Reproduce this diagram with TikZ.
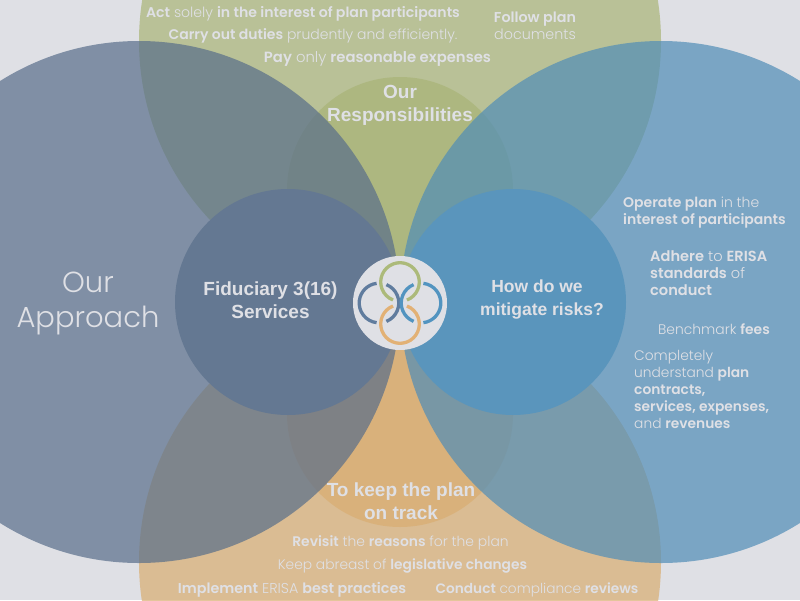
\documentclass[tikz,border=0pt]{standalone}
\usepackage{fontspec}
\setmainfont{Poppins Light}[BoldFont={Poppins SemiBold}]
\newfontfamily\headfont{Liberation Sans}
\definecolor{paperbg}{RGB}{223, 224, 229}
\definecolor{slate}{RGB}{88, 110, 138}
\definecolor{olive}{RGB}{169, 180, 119}
\definecolor{azure}{RGB}{80, 141, 183}
\definecolor{sand}{RGB}{217, 173, 113}
\definecolor{slatedisc}{RGB}{100, 120, 146}
\definecolor{azuredisc}{RGB}{90, 149, 188}
\definecolor{slatering}{RGB}{96, 124, 158}
\definecolor{olivering}{RGB}{172, 186, 122}
\definecolor{azurering}{RGB}{82, 148, 192}
\definecolor{sandring}{RGB}{226, 177, 117}
\tikzset{
  softdisc/.style={fill=#1, fill opacity=0.7, draw=none},
  ring/.style={draw=#1, line width=3.3pt},
  lbl/.style={text=paperbg, font=\fontsize{#1}{17}\selectfont, align=center, inner sep=0pt},
  lbl/.default=14,
  leftlbl/.style={text=paperbg, font=\fontsize{#1}{17}\selectfont, align=left, inner sep=0pt, anchor=west},
  leftlbl/.default=14,
  headlbl/.style={text=paperbg, font=\headfont\bfseries\fontsize{#1}{23}\selectfont, align=center, inner sep=0pt},
  headlbl/.default=19
}
\begin{document}
\begin{tikzpicture}[x=1pt, y=-1pt]
  \useasboundingbox (0, 0) rectangle (800, 600);
  \clip (0, 0) rectangle (800, 600);
  \fill[paperbg] (0, 0) rectangle (800, 600);

  % big discs
  \fill[softdisc=olive] (400, 41) circle[radius=261];
  \fill[softdisc=olive] (400, 190) circle[radius=113];
  \fill[softdisc=sand] (400, 562) circle[radius=261];
  \fill[softdisc=sand] (400, 414) circle[radius=113];
  \fill[softdisc=slate] (139, 302) circle[radius=261];
  \fill[softdisc=azure] (661, 302) circle[radius=261];

  % small discs
  \fill[slatedisc] (288, 302) circle[radius=113];
  \fill[azuredisc] (513, 302) circle[radius=113];

  % logo
  \node[circle, fill=paperbg, minimum size=94pt, inner sep=0pt] (hub) at (400, 303) {};
  \draw[ring=olivering] ([shift={(69:19.3)}]400, 282) arc[start angle=69, end angle=-249, radius=19.3];
  \draw[ring=sandring] ([shift={(-111:19.3)}]400, 324) arc[start angle=-111, end angle=-429, radius=19.3];
  \draw[ring=slatering] ([shift={(97:19.8)}]379, 303) arc[start angle=97, end angle=263, radius=19.8];
  \draw[ring=slatering] ([shift={(-68:19.8)}]379, 303) arc[start angle=-68, end angle=68, radius=19.8];
  \draw[ring=azurering] ([shift={(112:19.8)}]421, 303) arc[start angle=112, end angle=248, radius=19.8];
  \draw[ring=azurering] ([shift={(-83:19.8)}]421, 303) arc[start angle=-83, end angle=83, radius=19.8];

  % headings
  \node[headlbl] (resphead) at (400, 105) {Our\\Responsibilities};
  \node[headlbl] (trackhead) at (401, 501) {To keep the plan\\on track};
  \node[headlbl] (fidhead) at (270.5, 300) {Fiduciary 3(16)\\Services};
  \node[headlbl=17.5] (riskhead) at (542, 300) {How do we\hspace*{10pt}\\mitigate risks?};
  \node[text=paperbg, font=\fontsize{29}{35}\selectfont, align=center, inner sep=0pt] (approach) at (88, 303) {Our\\Approach};

  % top texts
  \node[lbl=14.1] (acttxt) at (303, 14) {\textbf{Act} solely \textbf{in the interest of plan participants}};
  \node[lbl=14] (carrytxt) at (313, 36) {\textbf{Carry out duties} prudently and efficiently.};
  \node[lbl=14.8] (paytxt) at (377.5, 59) {\textbf{Pay} only \textbf{reasonable expenses}};
  \node[lbl=14.3] (followtxt) at (535, 26) {\textbf{Follow plan}\\documents};

  % right texts
  \node[leftlbl] (operatetxt) at (623, 213) {\textbf{Operate plan} in the\\\textbf{interest of participants}};
  \node[leftlbl=14.6] (adheretxt) at (650, 273) {\textbf{Adhere} to \textbf{ERISA}\\\textbf{standards} of\\\textbf{conduct}};
  \node[lbl=13.9] (benchtxt) at (714, 329) {Benchmark \textbf{fees}};
  \node[leftlbl=13.8] (compltxt) at (634, 389) {Completely\\understand \textbf{plan}\\\textbf{contracts,}\\\textbf{services, expenses,}\\and \textbf{revenues}};

  % bottom texts
  \node[lbl=13.9] (revisittxt) at (400.5, 543) {\textbf{Revisit} the \textbf{reasons} for the plan};
  \node[lbl=13.8] (keeptxt) at (402.5, 566) {Keep abreast of \textbf{legislative changes}};
  \node[lbl=14.3] (impltxt) at (292, 590) {\textbf{Implement} ERISA \textbf{best practices}};
  \node[lbl=13.7] (condtxt) at (537, 590) {\textbf{Conduct} compliance \textbf{reviews}};
\end{tikzpicture}
\end{document}
